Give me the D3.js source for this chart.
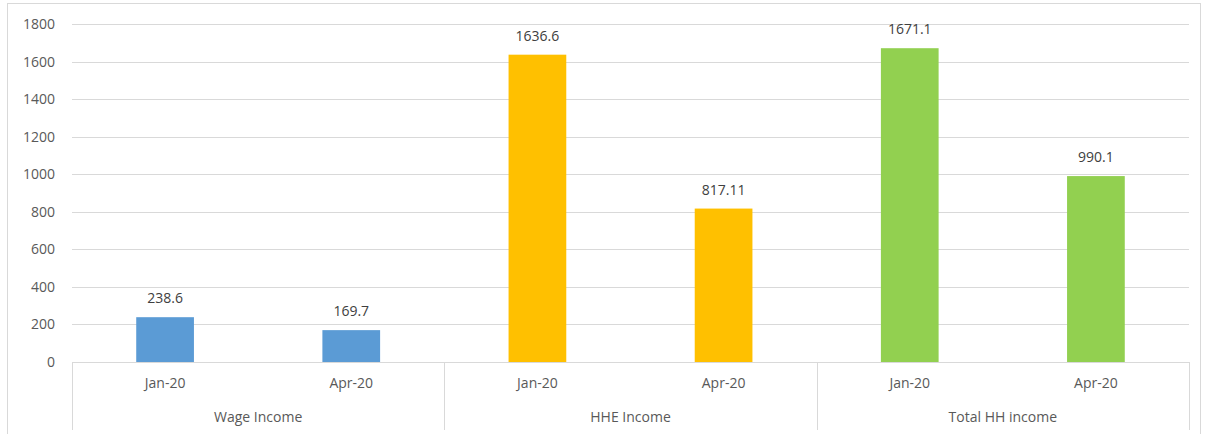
<!DOCTYPE html>
<html>
<head>
<meta charset="utf-8">
<script src="https://cdn.jsdelivr.net/npm/d3@7"></script>
<style>
  body { margin: 0; background: #fff; }
  svg { display: block; font-family: "Open Sans", "Noto Sans", sans-serif; }
</style>
</head>
<body>
<svg id="chart" width="1208" height="434"></svg>
<script>
const groups = ["Wage Income", "HHE Income", "Total HH income"];
const months = ["Jan-20", "Apr-20"];
const values = [238.6, 169.7, 1636.6, 817.11, 1671.1, 990.1];
const valueLabels = ["238.6", "169.7", "1636.6", "817.11", "1671.1", "990.1"];
const groupColors = ["#5b9bd5", "#ffc000", "#92d050"];
const yTicks = [0, 200, 400, 600, 800, 1000, 1200, 1400, 1600, 1800];

const plotLeft = 72, plotRight = 1189, plotTop = 24, plotBottom = 362;
const fontSize = "14px";
const svg = d3.select("#chart");

// outer frame
svg.append("rect")
    .attr("x", 7.5).attr("y", 3.5)
    .attr("width", 1193).attr("height", 440)
    .attr("fill", "none").attr("stroke", "#d9d9d9");

const data = values.map((v, i) => ({
    key: i,
    gi: Math.floor(i / 2),
    month: months[i % 2],
    value: v,
    label: valueLabels[i]
}));

const x = d3.scaleBand()
    .domain(data.map(d => d.key))
    .range([plotLeft, plotRight])
    .paddingInner(0.69)
    .paddingOuter(0.345);

const y = d3.scaleLinear()
    .domain([0, 1800])
    .range([plotBottom, plotTop]);

// gridlines
svg.append("g")
    .selectAll("line")
    .data(yTicks.filter(t => t > 0))
    .join("line")
    .attr("x1", plotLeft).attr("x2", plotRight)
    .attr("y1", d => Math.round(y(d)) + 0.5)
    .attr("y2", d => Math.round(y(d)) + 0.5)
    .attr("stroke", "#d9d9d9");

// y axis labels
const yAxis = svg.append("g")
    .attr("transform", `translate(${plotLeft},0)`)
    .call(d3.axisLeft(y).tickValues(yTicks).tickFormat(d3.format("d")).tickSize(0).tickPadding(17));
yAxis.select(".domain").remove();
yAxis.selectAll("text")
    .attr("fill", "#595959")
    .style("font-size", fontSize)
    .style("font-family", "'Open Sans', sans-serif");

// bars
svg.append("g")
    .selectAll("rect")
    .data(data)
    .join("rect")
    .attr("x", d => x(d.key))
    .attr("width", x.bandwidth())
    .attr("y", d => y(d.value))
    .attr("height", d => y(0) - y(d.value))
    .attr("fill", d => groupColors[d.gi]);

// value labels
svg.append("g")
    .selectAll("text")
    .data(data)
    .join("text")
    .attr("x", d => x(d.key) + x.bandwidth() / 2)
    .attr("y", d => y(d.value) - 14)
    .attr("text-anchor", "middle")
    .attr("fill", "#404040")
    .style("font-size", fontSize)
    .text(d => d.label);

// category axis
const step = x.step();
const axisG = svg.append("g");
axisG.append("line")
    .attr("x1", plotLeft).attr("x2", plotRight)
    .attr("y1", plotBottom + 0.5).attr("y2", plotBottom + 0.5)
    .attr("stroke", "#d9d9d9");

const groupEdges = d3.range(groups.length + 1).map(i => plotLeft + i * 2 * step);
axisG.selectAll("line.div")
    .data(groupEdges)
    .join("line")
    .attr("class", "div")
    .attr("x1", d => Math.round(d) + 0.5).attr("x2", d => Math.round(d) + 0.5)
    .attr("y1", plotBottom).attr("y2", 430)
    .attr("stroke", "#d9d9d9");

axisG.selectAll("text.month")
    .data(data)
    .join("text")
    .attr("class", "month")
    .attr("x", d => x(d.key) + x.bandwidth() / 2)
    .attr("y", 388)
    .attr("text-anchor", "middle")
    .attr("fill", "#595959")
    .style("font-size", fontSize)
    .text(d => d.month);

axisG.selectAll("text.group")
    .data(groups)
    .join("text")
    .attr("class", "group")
    .attr("x", (d, i) => (groupEdges[i] + groupEdges[i + 1]) / 2)
    .attr("y", 422)
    .attr("text-anchor", "middle")
    .attr("fill", "#595959")
    .style("font-size", fontSize)
    .text(d => d);
</script>
</body>
</html>
